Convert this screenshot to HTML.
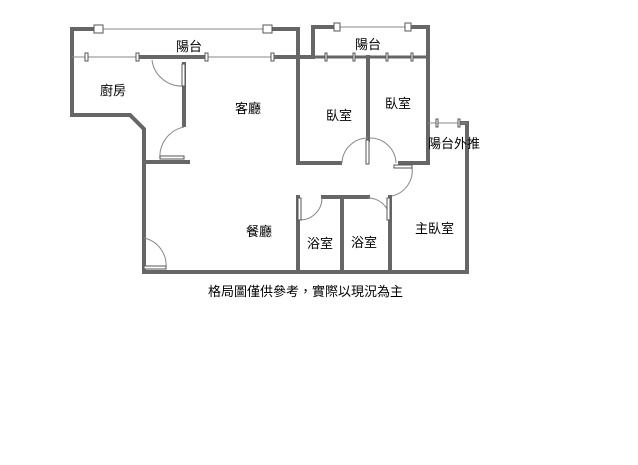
<!DOCTYPE html>
<html><head><meta charset="utf-8"><style>
body{margin:0;background:#fff;width:638px;height:460px;overflow:hidden}
text{font-family:"Liberation Sans","Noto Sans CJK TC",sans-serif;font-size:13px;fill:#000}
</style></head><body>
<svg width="638" height="460" xmlns="http://www.w3.org/2000/svg">
<g stroke="#666" stroke-width="4" fill="none" stroke-linecap="square">
<polyline points="72,57 72,29 96,29"/>
<polyline points="270,29 298,29 298,163"/>
<line x1="72" y1="57" x2="72" y2="115"/>
<polyline points="72,115 130,115 144,129 144,272"/>
<line x1="140" y1="57" x2="205" y2="57"/>
<line x1="276" y1="57" x2="310" y2="57"/>
<line x1="184" y1="64" x2="184" y2="125"/>
<line x1="144" y1="162" x2="188" y2="162"/>
<polyline points="313,57 313,27 337,27"/>
<polyline points="412,27 428,27 428,163 400,163"/>
<line x1="298" y1="57" x2="428" y2="57" stroke-width="3"/>
<line x1="368" y1="57" x2="368" y2="140"/>
<line x1="298" y1="163" x2="340" y2="163"/>
<polyline points="460,123 467,123 467,272"/>
<line x1="144" y1="272" x2="467" y2="272"/>
<line x1="323" y1="197" x2="368" y2="197"/>
<line x1="298" y1="197" x2="298" y2="272"/>
<line x1="342" y1="197" x2="342" y2="272"/>
<line x1="390" y1="197" x2="390" y2="272"/>
</g>
<g stroke="#888" stroke-width="1" fill="none">
<line x1="96" y1="29" x2="270" y2="29"/>
<line x1="337" y1="27" x2="412" y2="27"/>
<line x1="72" y1="57" x2="140" y2="57"/>
<line x1="204" y1="57" x2="276" y2="57"/>
<line x1="428" y1="123" x2="467" y2="123"/>
<path d="M152,60 A30,30 0 0 0 184,86"/>
<path d="M184,127 A30,30 0 0 0 160,159"/>
<path d="M342,163 A26,26 0 0 1 368,138"/>
<path d="M370,138 A26,26 0 0 1 396,163"/>
<path d="M412,167 A26,26 0 0 1 392,196"/>
<path d="M300,220 A22,22 0 0 0 322,198"/>
<path d="M390,220 A22,22 0 0 0 368,198"/>
<path d="M144,238 A28,28 0 0 1 166,268"/>
</g>
<g fill="#fff" stroke="#555" stroke-width="1">
<rect x="94" y="25" width="9" height="8"/><rect x="263" y="25" width="9" height="8"/>
<rect x="334" y="23" width="6" height="8"/><rect x="405" y="23" width="6" height="8"/>
<rect x="85" y="53" width="3" height="8"/><rect x="136" y="53" width="3" height="8"/>
<rect x="205" y="53" width="3" height="8"/><rect x="271" y="53" width="3" height="8"/>
<rect x="325" y="53" width="2" height="8"/><rect x="353" y="53" width="2" height="8"/>
<rect x="386" y="53" width="2" height="8"/><rect x="411" y="53" width="2" height="8"/>
<rect x="436" y="119" width="2" height="8"/><rect x="458" y="119" width="2" height="8"/>
<rect x="182" y="64" width="3" height="22"/><rect x="160" y="156" width="24" height="3"/>
<rect x="366" y="140" width="3" height="24"/><rect x="394" y="165" width="18" height="3"/>
<rect x="298" y="198" width="3" height="22"/><rect x="387" y="198" width="3" height="22"/>
<rect x="144" y="266" width="22" height="3"/>
</g>
<text x="176" y="51">陽台</text>
<text x="355" y="49">陽台</text>
<text x="100" y="95">廚房</text>
<text x="235" y="113">客廳</text>
<text x="326" y="120">臥室</text>
<text x="385" y="108">臥室</text>
<text x="428" y="148">陽台外推</text>
<text x="246" y="236">餐廳</text>
<text x="307" y="248">浴室</text>
<text x="351" y="247">浴室</text>
<text x="415" y="233">主臥室</text>
<text x="208" y="296">格局圖僅供參考，實際以現況為主</text>
</svg>
</body></html>
